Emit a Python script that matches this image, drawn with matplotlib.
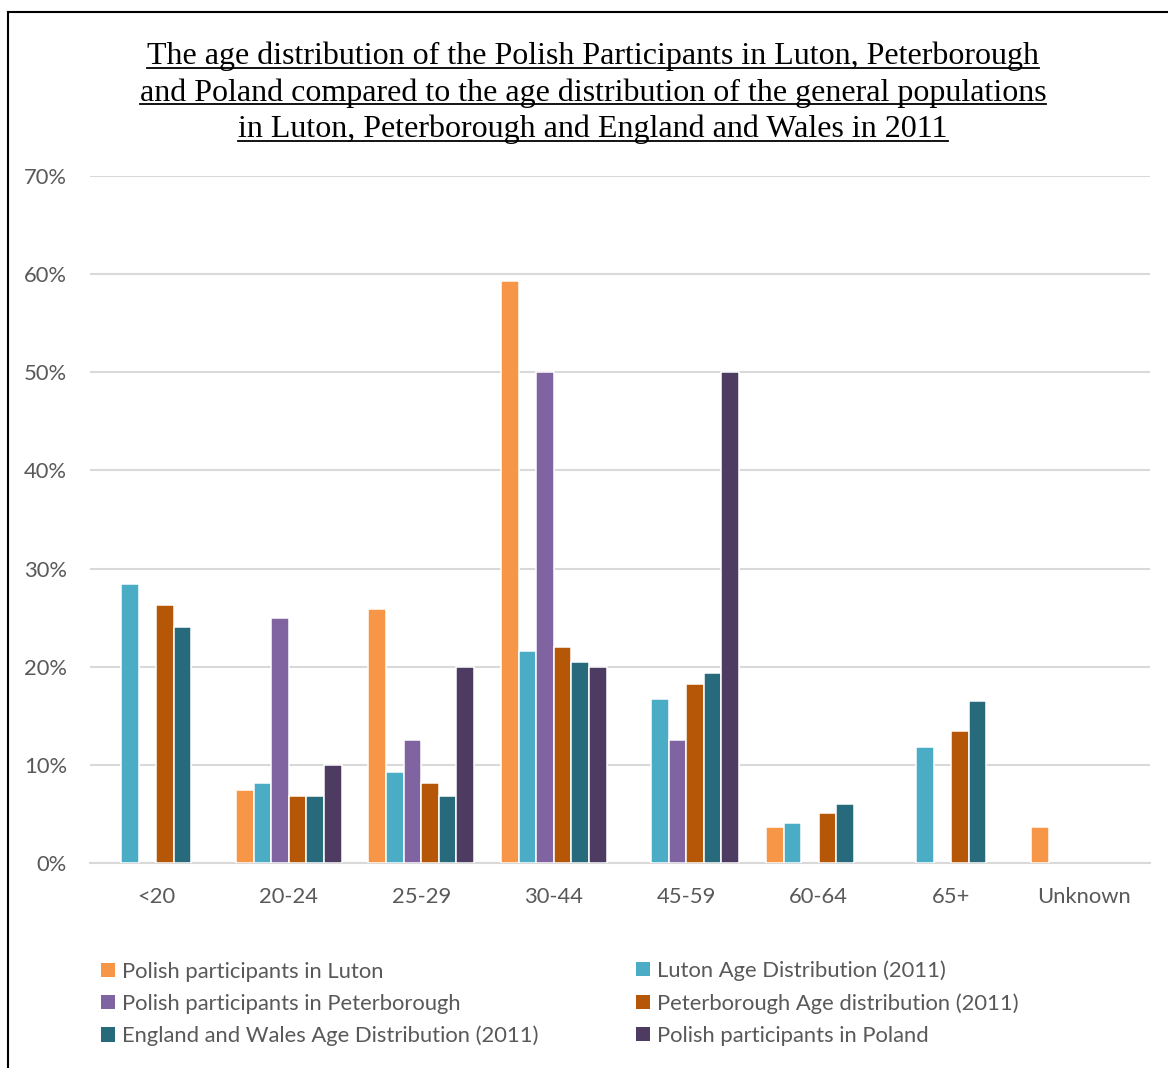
"""Grouped bar chart: age distribution of Polish participants vs. 2011 census populations."""

import matplotlib

matplotlib.use("Agg")
import matplotlib.pyplot as plt
import numpy as np
from matplotlib.lines import Line2D
from matplotlib.patches import Patch

age_groups = ["<20", "20-24", "25-29", "30-44", "45-59", "60-64", "65+", "Unknown"]

# percentages per age group (NaN = no bar)
polish_luton = [np.nan, 7.4, 25.9, 59.3, np.nan, 3.7, np.nan, 3.7]
luton_2011 = [28.4, 8.2, 9.3, 21.6, 16.7, 4.1, 11.8, np.nan]
polish_peterborough = [np.nan, 25.0, 12.5, 50.0, 12.5, np.nan, np.nan, np.nan]
peterborough_2011 = [26.3, 6.8, 8.2, 22.0, 18.2, 5.1, 13.5, np.nan]
england_wales_2011 = [24.0, 6.8, 6.8, 20.5, 19.4, 6.0, 16.5, np.nan]
polish_poland = [np.nan, 10.0, 20.0, 20.0, 50.0, np.nan, np.nan, np.nan]

series_names = [
    "Polish participants in Luton",
    "Luton Age Distribution (2011)",
    "Polish participants in Peterborough",
    "Peterborough Age distribution (2011)",
    "England and Wales Age Distribution (2011)",
    "Polish participants in Poland",
]
series_values = [polish_luton, luton_2011, polish_peterborough,
                 peterborough_2011, england_wales_2011, polish_poland]
series_colors = ["#F79646", "#4BACC6", "#8064A2", "#B65708", "#276A7C", "#4D3B62"]

title_lines = [
    "The age distribution of the Polish Participants in Luton, Peterborough",
    "and Poland compared to the age distribution of the general populations",
    "in Luton, Peterborough and England and Wales in 2011",
]

SANS = ["Lato", "DejaVu Sans"]
SERIF = ["Liberation Serif", "DejaVu Serif"]
TEXT_GREY = "#595959"
GRID_GREY = "#D9D9D9"

W, H = 1168, 1068
fig = plt.figure(figsize=(W / 100, H / 100), dpi=100)
fig.patch.set_facecolor("white")

ax = fig.add_axes([90 / W, 1 - 863 / H, (1150 - 90) / W, (863 - 176) / H])

x = np.arange(len(age_groups))
slot = 0.133
for i, (vals, col) in enumerate(zip(series_values, series_colors)):
    offs = (i - 2.5) * slot
    ax.bar(x + offs, vals, width=slot, color=col, edgecolor="white",
           linewidth=1.1, zorder=3)

ax.set_xlim(-0.5, len(age_groups) - 0.5)
ax.set_ylim(0, 70)
ax.set_yticks(np.arange(0, 71, 10))
ax.set_yticklabels([f"{v}%" for v in range(0, 71, 10)])
ax.set_xticks(x)
ax.set_xticklabels(age_groups)
ax.grid(axis="y", color=GRID_GREY, linewidth=1.5, zorder=0)
ax.tick_params(length=0, labelsize=15.8, colors=TEXT_GREY)
ax.tick_params(axis="y", pad=16.5)
ax.tick_params(axis="x", pad=17.5)
for lbl in ax.get_xticklabels() + ax.get_yticklabels():
    lbl.set_family(SANS)
for side in ["top", "right", "left"]:
    ax.spines[side].set_visible(False)
ax.spines["bottom"].set_color(GRID_GREY)
ax.spines["bottom"].set_linewidth(1.5)

# legend: two columns of three entries
handles = [Patch(facecolor=c, edgecolor="none") for c in series_colors]
leg_kw = dict(frameon=False, loc="upper left", handlelength=0.62, handleheight=0.62,
              handletextpad=0.35, labelspacing=0.55, borderpad=0, borderaxespad=0,
              prop={"family": SANS, "size": 15.8}, labelcolor=TEXT_GREY)
leg1 = fig.legend([handles[i] for i in (0, 2, 4)], [series_names[i] for i in (0, 2, 4)],
                  bbox_to_anchor=(101 / W, 1 - 961.5 / H), **leg_kw)
leg2 = fig.legend([handles[i] for i in (1, 3, 5)], [series_names[i] for i in (1, 3, 5)],
                  bbox_to_anchor=(636 / W, 1 - 960.5 / H), **leg_kw)

# underlined serif title
baselines = [64, 100.5, 137]
title_size = 23
fig.canvas.draw()
renderer = fig.canvas.get_renderer()
for line, yb in zip(title_lines, baselines):
    t = fig.text(593 / W, 1 - yb / H, line, ha="center", va="baseline",
                 family=SERIF, fontsize=title_size, color="black")
    bb = t.get_window_extent(renderer)
    yu = 1 - (yb + 3.5) / H
    fig.add_artist(Line2D([bb.x0 / W, bb.x1 / W], [yu, yu], color="black",
                          linewidth=1.3, transform=fig.transFigure))

# outer frame (top and left edges)
fig.add_artist(Line2D([8 / W, 1], [1 - 12 / H, 1 - 12 / H], color="black",
                      linewidth=1.5, transform=fig.transFigure))
fig.add_artist(Line2D([8 / W, 8 / W], [0, 1 - 12 / H], color="black",
                      linewidth=1.5, transform=fig.transFigure))

fig.savefig("out.png", dpi=100)
